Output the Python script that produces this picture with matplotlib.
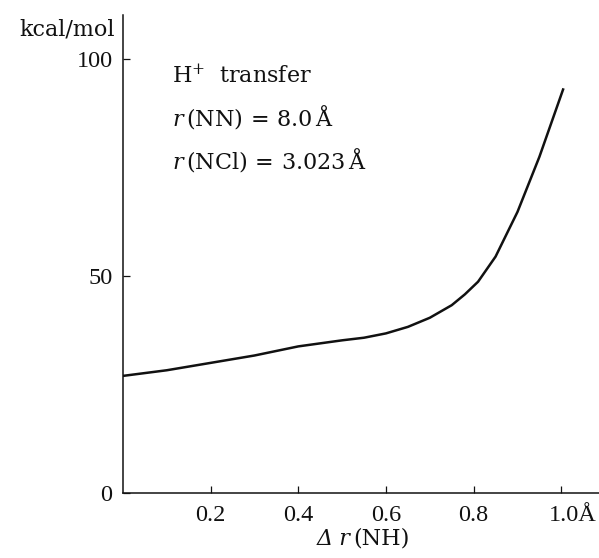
import matplotlib
matplotlib.use("Agg")
import matplotlib.pyplot as plt
import matplotlib.transforms as mtransforms

plt.rcParams["font.family"] = ["DejaVu Serif"]
plt.rcParams["mathtext.fontset"] = "dejavuserif"

# energy curve
dr_nh = [0.0, 0.1, 0.2, 0.3, 0.4, 0.5, 0.55, 0.6, 0.65, 0.7, 0.75, 0.78, 0.81,
         0.85, 0.9, 0.95, 1.005]
energy = [27.0, 28.3, 30.0, 31.7, 33.8, 35.2, 35.8, 36.8, 38.3, 40.4, 43.3, 45.8,
          48.7, 54.5, 64.8, 77.5, 93.3]

x_ticks = [0.2, 0.4, 0.6, 0.8, 1.0]
x_tick_labels = ["0.2", "0.4", "0.6", "0.8", "1.0Å"]
y_ticks = [0, 50, 100]
y_tick_labels = ["0", "50", "100"]

notes = [r"H$^{+}$  transfer",
         r"$r\,(\mathrm{NN})\,{=}\,8.0\,$Å",
         r"$r\,(\mathrm{NCl})\,{=}\,3.023\,$Å"]

LINE = "#111111"
NUM_FONT = "Liberation Serif"

fig = plt.figure(figsize=(5.99, 5.58), dpi=100)
ax = fig.add_axes([123 / 599, 65 / 558, 476 / 599, 478 / 558])

ax.plot(dr_nh, energy, color=LINE, lw=1.8, solid_capstyle="butt")

ax.set_xlim(0, 1.086)
ax.set_ylim(0, 110.2)

for side in ["top", "right"]:
    ax.spines[side].set_visible(False)
for side in ["left", "bottom"]:
    ax.spines[side].set_linewidth(1.1)
    ax.spines[side].set_color(LINE)

ax.set_xticks(x_ticks)
ax.set_xticklabels(x_tick_labels, fontfamily=NUM_FONT)
ax.set_yticks(y_ticks)
ax.set_yticklabels(y_tick_labels, fontfamily=NUM_FONT)
ax.tick_params(axis="both", direction="in", length=5, width=0.9, color=LINE,
               labelsize=17.5, labelcolor=LINE)
ax.tick_params(axis="y", pad=7.5)
ax.tick_params(axis="x", pad=8.5)
last = ax.get_xticklabels()[-1]
last.set_transform(last.get_transform() +
                   mtransforms.ScaledTranslation(11 / 100, 0, fig.dpi_scale_trans))

# x label: italic "Δ r" followed by upright "(NH)"
fig.text(351 / 599, 1 - 545 / 558, "Δ r", ha="right", va="baseline",
         fontsize=16, style="italic", color=LINE)
fig.text(353 / 599, 1 - 545 / 558, "(NH)", ha="left", va="baseline",
         fontsize=16, color=LINE)

fig.text(115 / 599, 1 - 36 / 558, "kcal/mol", ha="right", va="baseline",
         fontsize=16, color=LINE)

for i, note in enumerate(notes):
    fig.text(172 / 599, 1 - (83 + 42.5 * i) / 558, note, ha="left", va="baseline",
             fontsize=16, color=LINE)

fig.savefig("out.png", dpi=100)
